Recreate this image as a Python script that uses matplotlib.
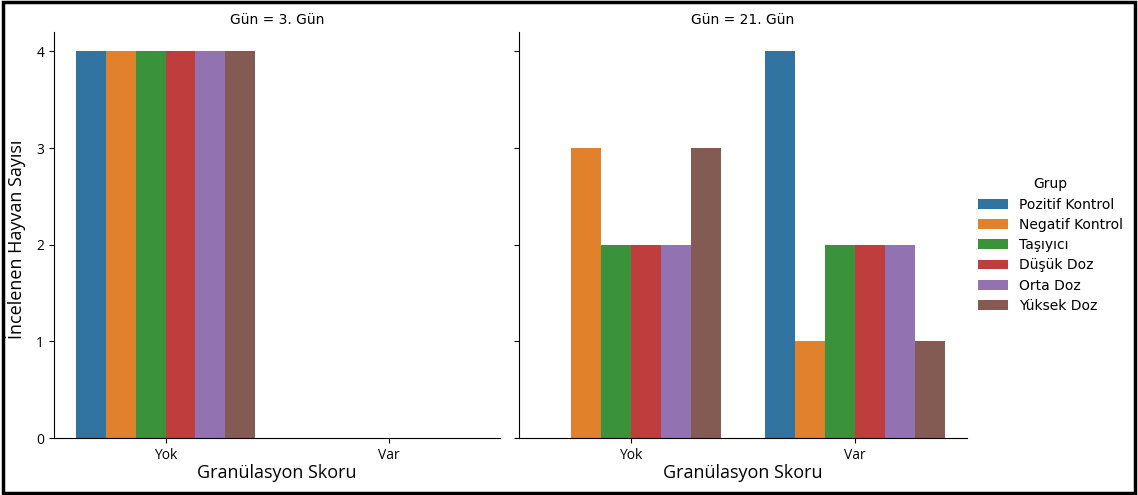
import numpy as np
import matplotlib
matplotlib.use("Agg")
import matplotlib.pyplot as plt
from matplotlib.patches import Rectangle, Patch

# Data
days = ["3. Gün", "21. Gün"]
scores = ["Yok", "Var"]
groups = ["Pozitif Kontrol", "Negatif Kontrol", "Taşıyıcı", "Düşük Doz", "Orta Doz", "Yüksek Doz"]
day3_counts = {"Yok": [4, 4, 4, 4, 4, 4], "Var": [0, 0, 0, 0, 0, 0]}
day21_counts = {"Yok": [0, 3, 2, 2, 2, 3], "Var": [4, 1, 2, 2, 2, 1]}
colors = ["#3274a1", "#e1812c", "#3a923a", "#c03d3e", "#9372b2", "#845b53"]

label_font = "Open Sans"

fig = plt.figure(figsize=(11.38, 4.95), dpi=100)
axes = [fig.add_axes([54 / 1138, 1 - 438 / 495, 446 / 1138, 406 / 495]),
        fig.add_axes([519 / 1138, 1 - 438 / 495, 448 / 1138, 406 / 495])]

n = len(groups)
width = 0.8 / n
x = np.arange(len(scores))
for ax, day, counts in zip(axes, days, [day3_counts, day21_counts]):
    for i, g in enumerate(groups):
        vals = [counts[s][i] for s in scores]
        ax.bar(x - 0.4 + width * (i + 0.5), vals, width=width, color=colors[i], linewidth=0)
    ax.set_xlim(-0.5, 1.5)
    ax.set_ylim(0, 4.2)
    ax.set_xticks(x)
    ax.set_xticklabels(scores, fontfamily=label_font, fontsize=10)
    ax.set_yticks([0, 1, 2, 3, 4])
    ax.spines["top"].set_visible(False)
    ax.spines["right"].set_visible(False)
    ax.set_title(f"Gün = {day}", fontsize=10, pad=6)
    ax.set_xlabel("Granülasyon Skoru", fontfamily=label_font, fontsize=13, labelpad=1)
    ax.tick_params(axis="both", length=3.5, width=0.8)

axes[0].set_yticklabels([str(v) for v in range(5)], fontfamily=label_font, fontsize=10)
axes[1].set_yticklabels([])
axes[0].set_ylabel("İncelenen Hayvan Sayısı", fontfamily=label_font, fontsize=13)
axes[0].yaxis.set_label_coords(-28 / 446, 0.49)

handles = [Patch(facecolor=c, label=g) for c, g in zip(colors, groups)]
fig.legend(handles=handles, title="Grup", loc="center left", bbox_to_anchor=(965 / 1138, 0.505),
           frameon=False, fontsize=10, title_fontsize=10, handlelength=2.2, handleheight=0.7,
           labelspacing=0.45)

# Frame around the figure
fig.patches.append(Rectangle((0.003, 0.005), 0.994, 0.99, transform=fig.transFigure,
                             fill=False, edgecolor="black", linewidth=2.5))

fig.savefig("out.png", dpi=100)
